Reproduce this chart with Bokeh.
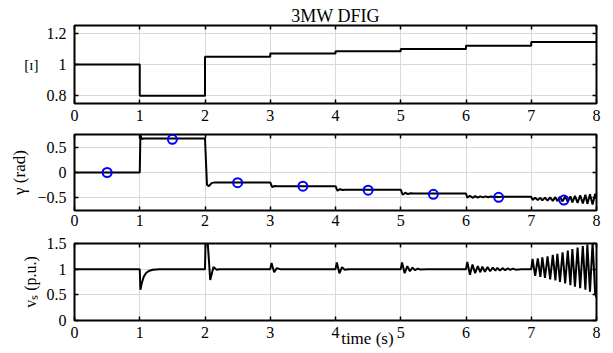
from bokeh.plotting import figure
from bokeh.layouts import column
from bokeh.models import FixedTicker, Range1d, LinearAxis
from bokeh.embed import file_html
from bokeh.resources import INLINE

FONT = "'Liberation Serif', serif"

# ---- data ----
x_ticks = [0, 1, 2, 3, 4, 5, 6, 7, 8]

# top panel: step levels
xi_t = [0, 1, 2, 3, 4, 5, 6, 7, 8]
xi_v = [1.0, 0.8, 1.05, 1.07, 1.085, 1.10, 1.12, 1.145, 1.145]

# middle panel: gamma (rad)
gam_t = [0, 1.0, 1.01, 1.03, 1.06, 2.0, 2.03, 2.06, 2.10, 2.15,
         3.0, 3.03, 3.07, 3.10, 4.0, 4.03, 4.07, 4.11, 4.15,
         5.0, 5.03, 5.07, 5.11, 5.15, 5.20,
         6.0, 6.02, 6.06, 6.10, 6.14, 6.18, 6.22, 6.26, 6.30, 6.34, 6.38, 6.42, 6.46, 6.50, 6.55,
         7.0, 7.02, 7.06, 7.10, 7.14, 7.17, 7.21, 7.25, 7.29, 7.33, 7.37, 7.40, 7.44, 7.48,
         7.52, 7.56, 7.60, 7.63, 7.67, 7.71, 7.75, 7.79, 7.83, 7.86, 7.90, 7.94, 7.98, 8.0]
gam_v = [0, 0, 0.74, 0.66, 0.67, 0.67, -0.24, -0.27, -0.21, -0.195,
         -0.195, -0.29, -0.265, -0.27, -0.27, -0.36, -0.33, -0.345, -0.34,
         -0.34, -0.44, -0.40, -0.425, -0.41, -0.415,
         -0.415, -0.50, -0.46, -0.50, -0.465, -0.495, -0.47, -0.49, -0.472, -0.488, -0.475, -0.485, -0.477, -0.483, -0.48,
         -0.48, -0.54, -0.50, -0.545, -0.50, -0.55, -0.495, -0.555, -0.49, -0.56, -0.485, -0.565, -0.48, -0.57,
         -0.475, -0.58, -0.47, -0.59, -0.46, -0.60, -0.45, -0.61, -0.44, -0.62, -0.43, -0.63, -0.42, -0.52]

circ_t = [0.5, 1.5, 2.5, 3.5, 4.5, 5.5, 6.5, 7.5]
circ_v = [0.0, 0.655, -0.2, -0.27, -0.35, -0.43, -0.49, -0.545]

# bottom panel: stator voltage (p.u.)
vs_t = [0, 1.0, 1.01, 1.03, 1.06, 1.10, 1.15, 1.20, 1.30,
        2.0, 2.01, 2.04, 2.08, 2.13, 2.18, 2.22,
        3.0, 3.02, 3.06, 3.10, 3.15,
        4.0, 4.02, 4.06, 4.10, 4.14, 4.20,
        5.0, 5.02, 5.06, 5.10, 5.14, 5.18, 5.22, 5.26, 5.30, 5.40,
        6.0, 6.02, 6.06, 6.10, 6.14, 6.18, 6.22, 6.25, 6.29, 6.33, 6.37, 6.41, 6.45, 6.48,
        6.52, 6.56, 6.60, 6.64, 6.68, 6.72, 6.76, 6.85,
        7.0, 7.02, 7.06, 7.10, 7.14, 7.17, 7.21, 7.25, 7.29, 7.33, 7.37, 7.40, 7.44, 7.48,
        7.52, 7.56, 7.60, 7.63, 7.67, 7.71, 7.75, 7.79, 7.83, 7.86, 7.90, 7.94, 7.98, 8.0]
vs_v = [1.0, 1.0, 0.60, 0.72, 0.85, 0.93, 0.97, 0.99, 1.0,
        1.0, 1.65, 1.55, 0.79, 1.04, 0.99, 1.0,
        1.0, 1.12, 0.94, 1.02, 1.0,
        1.0, 1.13, 0.92, 1.04, 0.99, 1.0,
        1.0, 1.13, 0.92, 1.06, 0.96, 1.03, 0.98, 1.01, 0.995, 1.0,
        1.0, 1.14, 0.89, 1.09, 0.92, 1.06, 0.94, 1.05, 0.95, 1.04, 0.96, 1.03, 0.97, 1.025,
        0.975, 1.02, 0.98, 1.015, 0.985, 1.01, 0.99, 1.0,
        1.0, 1.20, 0.87, 1.21, 0.85, 1.23, 0.83, 1.25, 0.80, 1.28, 0.78, 1.30, 0.75, 1.33,
        0.72, 1.36, 0.69, 1.39, 0.66, 1.42, 0.63, 1.45, 0.60, 1.48, 0.56, 1.52, 0.52, 0.45]

assert len(gam_t) == len(gam_v), (len(gam_t), len(gam_v))
assert len(vs_t) == len(vs_v), (len(vs_t), len(vs_v))

GRID = "#d9d9d9"
TICK_FS = "16px"


def mirror_axis(ticks):
    return LinearAxis(ticker=FixedTicker(ticks=ticks),
                      major_label_overrides={t: "" for t in ticks},
                      major_label_text_font_size="1px", major_label_standoff=0,
                      major_tick_in=4, major_tick_out=0, minor_tick_in=0, minor_tick_out=0,
                      major_tick_line_color="black", major_tick_line_width=1.5,
                      axis_line_color=None)


def make_fig(height, top, bottom, yr, yticks, ylabel, x_standoff=6):
    p = figure(width=613, height=height, x_range=Range1d(0, 8), y_range=Range1d(*yr),
               output_backend="svg", toolbar_location=None,
               min_border_left=74, min_border_right=17,
               min_border_top=top, min_border_bottom=bottom)
    p.outline_line_color = "black"
    p.outline_line_width = 2
    p.outline_line_alpha = 1
    p.background_fill_color = "white"
    p.border_fill_color = "white"
    xa = p.below[0]
    ya = p.left[0]
    for ax, ticks in ((xa, x_ticks), (ya, yticks)):
        ax.ticker = FixedTicker(ticks=ticks)
        ax.major_tick_in = 4
        ax.major_tick_out = 0
        ax.minor_tick_in = 0
        ax.minor_tick_out = 0
        ax.major_tick_line_color = "black"
        ax.major_tick_line_width = 1.5
        ax.axis_line_color = None
        ax.major_label_text_font = FONT
        ax.major_label_text_font_size = TICK_FS
        ax.major_label_text_color = "black"
        ax.axis_label_text_font = FONT
        ax.axis_label_text_font_style = "normal"
        ax.axis_label_text_font_size = "17px"
        ax.axis_label_text_color = "black"
    xa.major_label_standoff = x_standoff
    ya.major_label_standoff = 8
    ya.axis_label = ylabel
    ya.axis_label_standoff = 5
    p.xgrid.ticker = FixedTicker(ticks=x_ticks)
    p.ygrid.ticker = FixedTicker(ticks=yticks)
    p.grid.grid_line_color = GRID
    p.grid.grid_line_width = 1
    p.add_layout(mirror_axis(x_ticks), "above")
    p.add_layout(mirror_axis(yticks), "right")
    return p, xa, ya


# ---- top panel ----
p1, xa1, ya1 = make_fig(130, 25, 27, (0.75, 1.25), [0.8, 1.0, 1.2], "[ɪ]")
p1.step(xi_t, xi_v, mode="after", line_color="black", line_width=2)
p1.title.text = "3MW DFIG"
p1.title.align = "center"
p1.title.text_font = FONT
p1.title.text_font_size = "18px"
p1.title.text_font_style = "normal"
p1.title.text_color = "black"
p1.title.standoff = 0
ya1.axis_label_orientation = "horizontal"
ya1.axis_label_text_font_size = "15px"

# ---- middle panel ----
p2, xa2, ya2 = make_fig(104, 4, 24, (-0.75, 0.75), [-0.5, 0.0, 0.5], "γ (rad)", x_standoff=4)
p2.line(gam_t, gam_v, line_color="black", line_width=2)
p2.scatter(circ_t, circ_v, marker="circle", size=9, fill_color=None,
           line_color="#0000ff", line_width=2)

# ---- bottom panel ----
p3, xa3, ya3 = make_fig(119, 9, 33, (0, 1.5), [0, 0.5, 1.0, 1.5], "vₛ (p.u.)")
p3.line(vs_t, vs_v, line_color="black", line_width=2)
ya3.axis_label_text_font_size = "16px"
xa3.axis_label = "\u00a0" * 15 + "time (s)"
xa3.axis_label_standoff = -12

layout = column(p1, p2, p3, spacing=0)
open("out.html", "w").write(file_html(layout, INLINE))
